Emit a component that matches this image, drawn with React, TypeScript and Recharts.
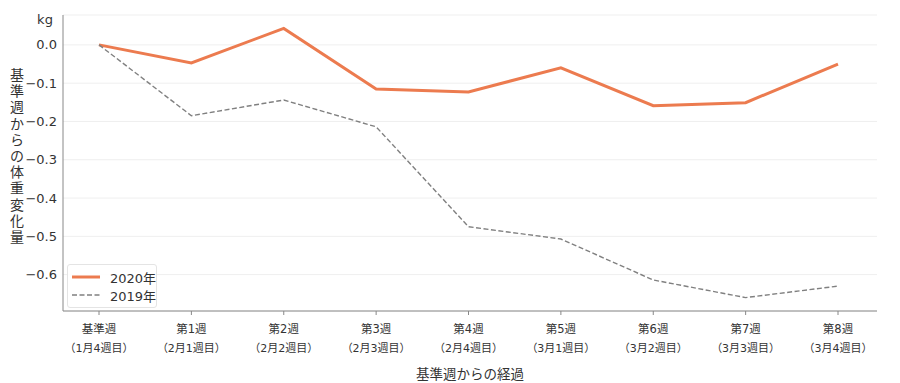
import { CartesianGrid, Line, LineChart, XAxis, YAxis } from "recharts";

const weeks = ["基準週", "第1週", "第2週", "第3週", "第4週", "第5週", "第6週", "第7週", "第8週"];
const subLabels = ["（1月4週目）", "（2月1週目）", "（2月2週目）", "（2月3週目）", "（2月4週目）", "（3月1週目）", "（3月2週目）", "（3月3週目）", "（3月4週目）"];
const y2020 = [0, -0.047, 0.043, -0.115, -0.123, -0.06, -0.159, -0.151, -0.05];
const y2019 = [0, -0.185, -0.144, -0.214, -0.475, -0.507, -0.614, -0.66, -0.63];
const yTicks = [0, -0.1, -0.2, -0.3, -0.4, -0.5, -0.6];

const data = weeks.map((w, i) => ({ week: w, sub: subLabels[i], a: y2020[i], b: y2019[i] }));

const FONT = "'DejaVu Sans', 'Noto Sans CJK JP', sans-serif";
const ORANGE = "#ec7b4f";
const GREY = "#808080";
const yTitle = "基準週からの体重変化量";

function WeekTick({ x, y, payload, index }: any) {
  return (
    <g transform={`translate(${x},${y})`}>
      <text textAnchor="middle" y={16} fontSize={11.5} fill="#333" fontFamily={FONT}>{payload.value}</text>
      <text textAnchor="middle" y={35} fontSize={11} fill="#333" fontFamily={FONT}>{subLabels[index]}</text>
    </g>
  );
}

function YTitle() {
  return (
    <g>
      <text x={45} y={24} textAnchor="middle" fontSize={13} fill="#333" fontFamily={FONT}>kg</text>
      {yTitle.split("").map((c, i) => (
        <text key={i} x={17} y={80 + i * 16.2} textAnchor="middle" fontSize={14} fill="#333" fontFamily={FONT}>{c}</text>
      ))}
    </g>
  );
}

function LegendBox() {
  const row = { display: "flex", alignItems: "center", height: 18, whiteSpace: "nowrap" as const };
  return (
    <div style={{ position: "absolute", left: 67, top: 264, width: 88, padding: "3px 0", background: "rgba(255,255,255,0.9)", border: "1px solid #e4e4e4", borderRadius: 3, fontFamily: FONT, fontSize: 13, color: "#333" }}>
      <div style={row}>
        <svg width={36} height={10}><line x1={4} y1={5} x2={32} y2={5} stroke={ORANGE} strokeWidth={3} /></svg>
        <span style={{ marginLeft: 6 }}>2020年</span>
      </div>
      <div style={row}>
        <svg width={36} height={10}><line x1={4} y1={5} x2={32} y2={5} stroke={GREY} strokeWidth={1.4} strokeDasharray="5 2.5" /></svg>
        <span style={{ marginLeft: 6 }}>2019年</span>
      </div>
    </div>
  );
}

export default function App() {
  return (
    <div style={{ position: "absolute", left: 0, top: 0, width: 900, height: 383, background: "#fff" }}>
      <LineChart width={900} height={383} data={data} margin={{ top: 15, right: 23, bottom: 0, left: 0 }}>
        <CartesianGrid vertical={false} stroke="#efefef" />
        <XAxis
          dataKey="week"
          height={72}
          interval={0}
          padding={{ left: 36, right: 39 }}
          stroke="#888"
          tickSize={4}
          tick={<WeekTick />}
          label={{ value: "基準週からの経過", position: "insideBottom", offset: 4, fontSize: 13.5, fill: "#333", fontFamily: FONT }}
        />
        <YAxis
          width={63}
          domain={[-0.695, 0.078]}
          ticks={yTicks}
          allowDataOverflow
          stroke="#888"
          tickSize={0}
          tickMargin={6}
          tickFormatter={(v: number) => v.toFixed(1).replace("-", "−")}
          tick={{ fontSize: 13, fill: "#333", fontFamily: FONT }}
          label={{ content: () => <YTitle /> }}
        />
        <Line dataKey="a" name="2020年" stroke={ORANGE} strokeWidth={3} dot={false} isAnimationActive={false} />
        <Line dataKey="b" name="2019年" stroke={GREY} strokeWidth={1.4} strokeDasharray="5 2.5" dot={false} isAnimationActive={false} />
      </LineChart>
      <LegendBox />
    </div>
  );
}
